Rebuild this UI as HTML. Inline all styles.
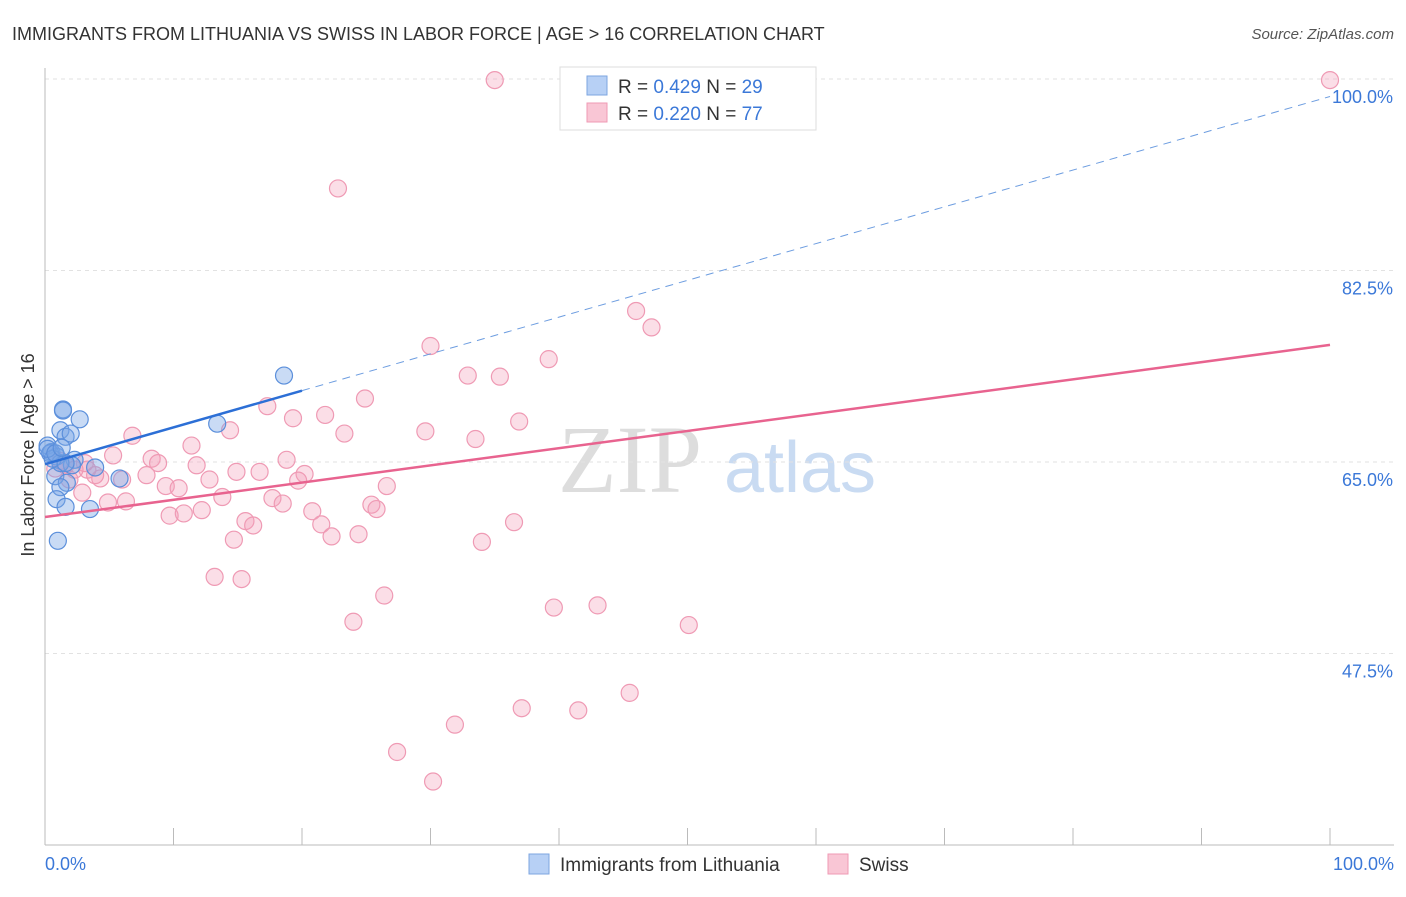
<!DOCTYPE html>
<html><head><meta charset="utf-8"><style>
body{margin:0;background:#fff;font-family:"Liberation Sans",sans-serif}
#wrap{position:relative;width:1406px;height:892px}
</style></head><body>
<div id="wrap">
<svg id="svg" width="1406" height="892" xmlns="http://www.w3.org/2000/svg">
<text x="12" y="40" font-size="18" fill="#333">IMMIGRANTS FROM LITHUANIA VS SWISS IN LABOR FORCE | AGE &gt; 16 CORRELATION CHART</text>
<text x="1394" y="39" font-size="15" fill="#555" font-style="italic" text-anchor="end">Source: ZipAtlas.com</text>
<text x="34" y="455" font-size="18" fill="#333" text-anchor="middle" transform="rotate(-90 34 455)">In Labor Force | Age &gt; 16</text>
<text x="630" y="492" font-size="96" fill="#ddd" font-family="Liberation Serif" text-anchor="middle">ZIP</text>
<text x="800" y="492" font-size="72" fill="#c9dbf2" text-anchor="middle">atlas</text>
<g id="grid"></g><g id="axes"></g><g id="pts"></g><g id="lines"></g>
<g>
<rect x="560" y="67" width="256" height="63" fill="#fff" stroke="#ddd"/>
<rect x="587" y="76" width="20" height="19" fill="#b7d0f5" stroke="#7ea6e0"/>
<rect x="587" y="103" width="20" height="19" fill="#f9c6d5" stroke="#ef9ab4"/>
<text x="618" y="93" font-size="19" fill="#333">R = <tspan fill="#3b78d8">0.429</tspan>   N = <tspan fill="#3b78d8">29</tspan></text>
<text x="618" y="120" font-size="19" fill="#333">R = <tspan fill="#3b78d8">0.220</tspan>   N = <tspan fill="#3b78d8">77</tspan></text>
</g>
<g>
<rect x="529" y="854" width="20" height="20" fill="#b7d0f5" stroke="#7ea6e0"/>
<text x="560" y="871" font-size="19" fill="#333">Immigrants from Lithuania</text>
<rect x="828" y="854" width="20" height="20" fill="#f9c6d5" stroke="#ef9ab4"/>
<text x="859" y="871" font-size="19" fill="#333">Swiss</text>
</g>
</svg></div>
<script>
const yTicks=[47.5,65.0,82.5,100.0];
const xTickLabels=["0.0%","100.0%"];
const blueX=[18.6,13.4,1.4,1.4,2.7,1.2,1.6,2.0,0.2,0.5,0.9,2.3,2.1,3.9,5.8,0.8,1.7,1.2,0.9,1.6,3.5,1.0,0.4,1.2,0.6,0.2,1.6,0.8,1.3];
const blueY=[72.9,68.5,69.8,69.7,68.9,67.9,67.3,67.6,66.5,65.9,65.5,65.2,64.7,64.5,63.5,63.7,63.1,62.7,61.6,60.9,60.7,57.8,65.8,64.9,65.3,66.2,64.9,65.8,66.3];
const pinkX=[35.0,100,22.8,46.0,47.2,30.0,39.2,32.9,35.4,24.9,17.3,14.4,19.3,21.8,36.9,29.6,23.3,33.5,6.8,11.4,5.3,8.3,8.8,11.8,16.7,18.8,20.2,19.7,3.3,4.3,6.0,7.9,12.8,14.9,26.6,9.4,10.4,2.9,4.9,6.3,13.8,17.7,18.5,25.4,25.8,20.8,9.7,10.8,12.2,15.6,16.2,21.5,36.5,14.7,22.3,24.4,34.0,13.2,15.3,26.4,39.6,43.0,24.0,50.1,45.5,37.1,41.5,31.9,27.4,30.2,1.6,2.3,1.9,3.9,1.2,3.1,0.8];
const pinkY=[99.9,99.9,90.0,78.8,77.3,75.6,74.4,72.9,72.8,70.8,70.1,67.9,69.0,69.3,68.7,67.8,67.6,67.1,67.4,66.5,65.6,65.3,64.9,64.7,64.1,65.2,63.9,63.3,64.3,63.5,63.4,63.8,63.4,64.1,62.8,62.8,62.6,62.2,61.3,61.4,61.8,61.7,61.2,61.1,60.7,60.5,60.1,60.3,60.6,59.6,59.2,59.3,59.5,57.9,58.2,58.4,57.7,54.5,54.3,52.8,51.7,51.9,50.4,50.1,43.9,42.5,42.3,41.0,38.5,35.8,64.7,64.3,63.4,63.8,65.1,64.9,64.4];
const blueFit=[64.8,98.4];
const pinkFit=[59.97,75.7];
const X0=45,X1=1330,Y100=79,PPU=191.5/17.5;
const sx=v=>X0+(X1-X0)*v/100, sy=v=>Y100+(100-v)*PPU;
const NS="http://www.w3.org/2000/svg";
function mk(tag,attrs,parent){const e=document.createElementNS(NS,tag);for(const k in attrs)e.setAttribute(k,attrs[k]);document.getElementById(parent).appendChild(e);return e;}
yTicks.forEach(t=>{
 const l=mk('line',{x1:45,x2:1394,y1:sy(t),y2:sy(t),stroke:'#e2e2e2','stroke-dasharray':'4 4'},'grid');
 
 
 const tx=mk('text',{x:1393,y:sy(t)+24,'font-size':18,fill:'#3b78d8','text-anchor':'end'},'grid');
 tx.textContent=t.toFixed(1)+'%';
 
 
});
const ax=mk('line',{x1:45,x2:45,y1:68,y2:845,stroke:'#bbb'},'axes');


const bx=mk('line',{x1:45,x2:1394,y1:845,y2:845,stroke:'#bbb'},'axes');


for(let i=1;i<=10;i++){const t=mk('line',{x1:sx(i*10),x2:sx(i*10),y1:828,y2:845,stroke:'#bbb'},'axes');
 
 }
[[0,'start',45],[100,'end',1394]].forEach((a,i)=>{const t=mk('text',{x:a[2],y:870,'font-size':18,fill:'#3b78d8','text-anchor':a[1]},'axes');t.textContent=xTickLabels[i];
 
 });
pinkX.forEach((x,i)=>{const c=mk('circle',{cx:sx(x),cy:sy(pinkY[i]),r:8.5,fill:'rgba(244,160,185,0.35)',stroke:'#ef9ab4','stroke-width':1.2},'pts');
 
 });
blueX.forEach((x,i)=>{const c=mk('circle',{cx:sx(x),cy:sy(blueY[i]),r:8.5,fill:'rgba(120,165,230,0.4)',stroke:'#5b8fdb','stroke-width':1.2},'pts');
 
 });
const bf=x=>blueFit[0]+(blueFit[1]-blueFit[0])*x/100, pf=x=>pinkFit[0]+(pinkFit[1]-pinkFit[0])*x/100;
const l1=mk('line',{x1:sx(0),y1:sy(bf(0)),x2:sx(20),y2:sy(bf(20)),stroke:'#2c6fd6','stroke-width':2.5},'lines');


const l2=mk('line',{x1:sx(20),y1:sy(bf(20)),x2:sx(100),y2:sy(bf(100)),stroke:'#6d9de0','stroke-width':1,'stroke-dasharray':'8 6'},'lines');


const l3=mk('line',{x1:sx(0),y1:sy(pf(0)),x2:sx(100),y2:sy(pf(100)),stroke:'#e8638f','stroke-width':2.5},'lines');


</script></body></html>
